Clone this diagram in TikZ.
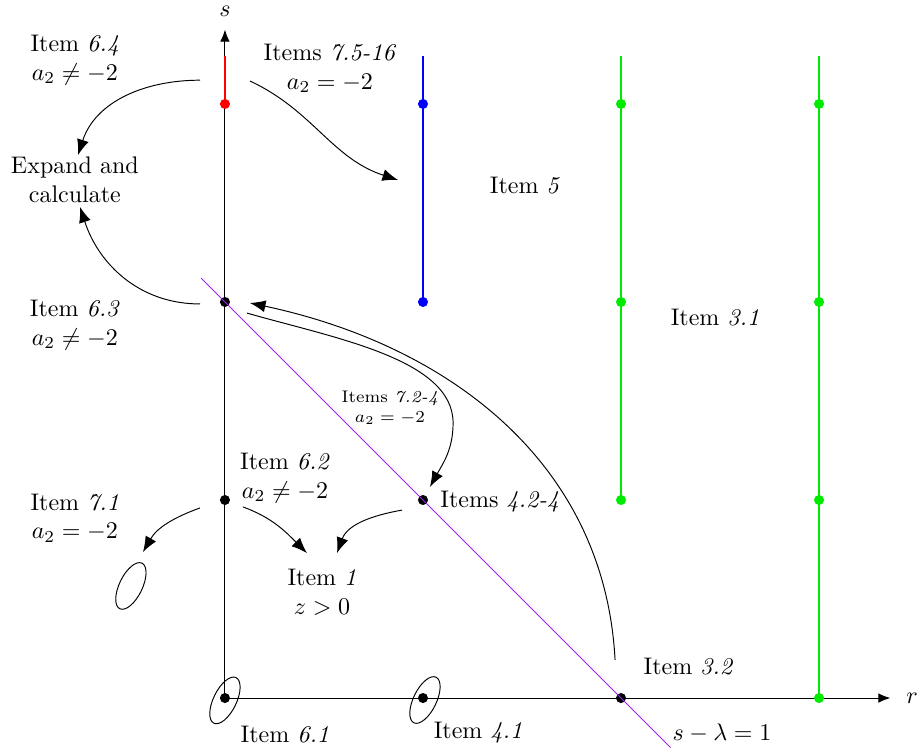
\documentclass[tikz,border=0pt]{standalone}
\usepackage{amsmath,amssymb}
\usepackage{tikz}
\usepackage{xcolor}
\usetikzlibrary{arrows.meta}
\definecolor{lineviolet}{RGB}{160,32,240}
\definecolor{brightgreen}{RGB}{0,235,0}

\begin{document}
\begin{tikzpicture}[x=2.9cm, y=2.9cm, every node/.style={align=center},
    flow/.style={-{Latex[length=6.5pt,width=5pt]}},
    axis/.style={-{Latex[length=5pt,width=4pt]}},
    dot/.style={circle, fill, inner sep=0pt, minimum size=4.2pt},
    seg/.style={line width=1.2pt},
    loop/.style={rotate around={64:(#1)}}]
        \useasboundingbox (-1.136,-0.278) rectangle (3.520,3.525);
        \coordinate (o) at (0,0);
        \coordinate (rtip) at (3.36,0);
        \coordinate (stip) at (0,3.375);
        \draw[axis] (o) -- (rtip);
        \draw[axis] (o) -- (stip);
        \node (rlab) at (3.47,0) {$r$};
        \node[inner sep=1pt] (slab) at (0,3.47) {$s$};
        \foreach \a/\b/\c in {0/3/red,1/2/blue,2/1/brightgreen,3/0/brightgreen}
          \draw[seg, \c] (\a,\b) -- (\a,3.24);
        \foreach \n/\x/\y/\c in {r3/0/3/red,b3/1/3/blue,b2/1/2/blue,g23/2/3/brightgreen,g22/2/2/brightgreen,g21/2/1/brightgreen,g33/3/3/brightgreen,g32/3/2/brightgreen,g31/3/1/brightgreen,g30/3/0/brightgreen,p63/0/2/black,p62/0/1/black,p61/0/0/black,p42/1/1/black,p41/1/0/black,p32/2/0/black}
          \node[dot, fill=\c] (\n) at (\x,\y) {};
        \coordinate (la) at (-0.12,2.12);
        \coordinate (lb) at (2.25,-0.25);
        \draw[lineviolet] (la) -- (lb);
        \coordinate (c61) at (0.0,-0.012);
        \coordinate (c41) at (1.01,-0.01);
        \coordinate (c71) at (-0.475,0.566);
        \foreach \c in {c61,c41,c71}
          \draw[loop=\c] (\c) ellipse (0.128 and 0.058);
        \node (i64) at (-0.758,3.222) {Item \textit{6.4}\\$a_2\neq-2$};
        \node (i75) at (0.53,3.18) {Items \textit{7.5-16}\\$a_2=-2$};
        \node (exp) at (-0.758,2.616) {Expand and\\calculate};
        \node (i5) at (1.515,2.59) {Item \textit{5}};
        \node (i63) at (-0.758,1.884) {Item \textit{6.3}\\$a_2\neq-2$};
        \node (i31) at (2.475,1.92) {Item \textit{3.1}};
        \node[font=\scriptsize] (i72) at (0.833,1.465) {Items \textit{7.2-4}\\$a_2=-2$};
        \node (i62) at (0.303,1.111) {Item \textit{6.2}\\$a_2\neq-2$};
        \node (i71) at (-0.758,0.909) {Item \textit{7.1}\\$a_2=-2$};
        \node[anchor=west] (i42) at (1.045,0.99) {Items \textit{4.2-4}};
        \node (i1) at (0.49,0.535) {Item \textit{1}\\$z>0$};
        \node (i32) at (2.34,0.157) {Item \textit{3.2}};
        \node (i61) at (0.303,-0.187) {Item \textit{6.1}};
        \node (i41) at (1.278,-0.177) {Item \textit{4.1}};
        \node (lam) at (2.51,-0.177) {$s-\lambda=1$};
        \coordinate (redL) at (-0.126,3.12);
        \coordinate (redR) at (0.126,3.116);
        \coordinate (expN) at (-0.742,2.742);
        \coordinate (expS) at (-0.732,2.48);
        \coordinate (blueL) at (0.874,2.616);
        \coordinate (p63L) at (-0.126,1.99);
        \coordinate (p63R) at (0.111,1.944);
        \coordinate (p63in) at (0.126,1.995);
        \coordinate (p32up) at (1.97,0.192);
        \coordinate (bend42) at (1.152,1.389);
        \coordinate (p42in) at (1.035,1.066);
        \coordinate (p62L) at (-0.126,0.96);
        \coordinate (p62R) at (0.091,0.965);
        \coordinate (p42L) at (0.894,0.949);
        \coordinate (loopN) at (-0.414,0.737);
        \coordinate (i1a) at (0.414,0.732);
        \coordinate (i1b) at (0.566,0.732);
        \foreach \s/\e/\o/\i in {redL/expN/180/72,p63L/expS/180/-72,redR/blueL/-25/162,p32up/p63in/93/-12,p62L/loopN/200/60,p62R/i1a/-20/135,p42L/i1b/190/70}
          \draw[flow] (\s) to[out=\o, in=\i] (\e);
        \draw[flow] (p63R) to[out=-16, in=90, in looseness=0.7] (bend42) to[out=-90, in=61] (p42in);
      \end{tikzpicture}
\end{document}
